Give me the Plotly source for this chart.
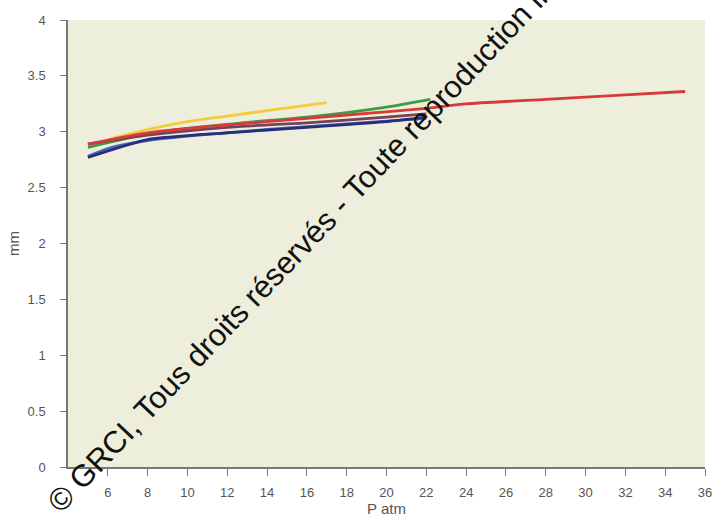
import plotly.graph_objects as go

# Data
red_x = [5, 8, 10, 14, 18, 22, 24, 28, 32, 35]
red_y = [2.89, 2.99, 3.03, 3.09, 3.15, 3.21, 3.25, 3.29, 3.33, 3.36]
green_x = [5, 8, 10, 14, 16, 20, 22.2]
green_y = [2.86, 2.98, 3.03, 3.10, 3.13, 3.22, 3.29]
yellow_x = [6, 8, 10, 12, 14, 17]
yellow_y = [2.93, 3.02, 3.09, 3.14, 3.19, 3.26]
blue_x = [5, 6, 8, 10, 14, 18, 22]
blue_y = [2.78, 2.85, 2.92, 2.96, 3.02, 3.07, 3.12]
navy_x = [5, 8, 12, 16, 20, 22]
navy_y = [2.77, 2.93, 2.99, 3.04, 3.09, 3.13]
purple_x = [5, 8, 12, 16, 20, 22]
purple_y = [2.89, 2.97, 3.04, 3.08, 3.13, 3.16]

x_ticks = [6, 8, 10, 12, 14, 16, 18, 20, 22, 24, 26, 28, 30, 32, 34, 36]
y_ticks = [0, 0.5, 1, 1.5, 2, 2.5, 3, 3.5, 4]
y_labels = ["0", "0.5", "1", "1.5", "2", "2.5", "3", "3.5", "4"]

series = [
    ("1", green_x, green_y, "#3f9a45"),
    ("2", yellow_x, yellow_y, "#f2cc3a"),
    ("3", blue_x, blue_y, "#3d6fb8"),
    ("4", navy_x, navy_y, "#2b2c7c"),
    ("5", purple_x, purple_y, "#7a3f5a"),
    ("6", red_x, red_y, "#d83a3a"),
]

fig = go.Figure()
for name, xs, ys, col in series:
    fig.add_trace(go.Scatter(x=xs, y=ys, mode="lines", name=name,
                             line=dict(color=col, width=2.8, shape="spline", smoothing=0.6),
                             showlegend=False))

tick_font = dict(family="Liberation Sans Narrow, Liberation Sans, Arial", size=13, color="#555")

fig.update_layout(
    width=716, height=524,
    margin=dict(l=68, r=11, t=20, b=57, autoexpand=False),
    paper_bgcolor="white",
    plot_bgcolor="#eeeedc",
    font=dict(family="Liberation Sans, Arial", size=13, color="#555"),
    xaxis=dict(range=[4, 36], tickvals=x_ticks, ticks="outside", ticklen=7,
               tickcolor="#777", showline=True, linecolor="#777", linewidth=1.5,
               showgrid=False, zeroline=False, tickfont=tick_font,
               ticklabelstandoff=6,
               title=dict(text="P atm", font=dict(size=15, color="#555"), standoff=2)),
    yaxis=dict(range=[0, 4], tickvals=y_ticks, ticktext=y_labels, ticks="outside",
               ticklen=6, tickcolor="#777", showline=True, linecolor="#777",
               linewidth=1.5, showgrid=False, zeroline=False, tickfont=tick_font,
               ticklabelstandoff=12,
               title=dict(text="mm", font=dict(size=15, color="#555"), standoff=4)),
    annotations=[dict(
        text="© GRCI, Tous droits réservés - Toute reproduction interdite",
        xref="paper", yref="paper", x=0.413, y=0.564, showarrow=False,
        textangle=-46.5, font=dict(size=31, color="#111", family="Liberation Sans, Arial"),
    )],
)

fig.write_html("out.html", post_script="document.body.style.margin='0';",
               config={"displayModeBar": False})
